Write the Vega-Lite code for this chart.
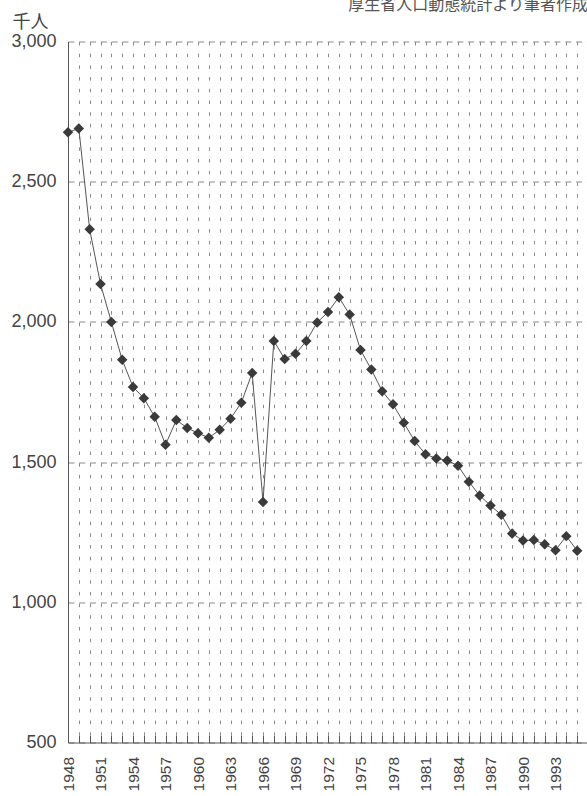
{
  "$schema": "https://vega.github.io/schema/vega-lite/v6.json",
  "autosize": "none",
  "width": 520,
  "height": 701,
  "padding": {"left": 68, "top": 41.5, "right": 0, "bottom": 54},
  "background": "white",
  "title": {
    "text": "厚生省人口動態統計より筆者作成",
    "anchor": "end",
    "orient": "top",
    "frame": "group",
    "font": "Noto Sans CJK JP",
    "fontSize": 16,
    "fontWeight": "normal",
    "color": "#555555",
    "baseline": "alphabetic",
    "offset": -12
  },
  "config": {
    "view": {"stroke": null},
    "axis": {"domainColor": "#555555", "domainWidth": 1, "gridColor": "#8a8a8a", "gridWidth": 1}
  },
  "data": {
    "values": [
      {"year": 1948, "births": 2676}, {"year": 1949, "births": 2690}, {"year": 1950, "births": 2330},
      {"year": 1951, "births": 2135}, {"year": 1952, "births": 2000}, {"year": 1953, "births": 1865},
      {"year": 1954, "births": 1768}, {"year": 1955, "births": 1728}, {"year": 1956, "births": 1662},
      {"year": 1957, "births": 1562}, {"year": 1958, "births": 1650}, {"year": 1959, "births": 1622},
      {"year": 1960, "births": 1603}, {"year": 1961, "births": 1587}, {"year": 1962, "births": 1615},
      {"year": 1963, "births": 1655}, {"year": 1964, "births": 1712}, {"year": 1965, "births": 1818},
      {"year": 1966, "births": 1358}, {"year": 1967, "births": 1932}, {"year": 1968, "births": 1868},
      {"year": 1969, "births": 1886}, {"year": 1970, "births": 1932}, {"year": 1971, "births": 1998},
      {"year": 1972, "births": 2035}, {"year": 1973, "births": 2088}, {"year": 1974, "births": 2026},
      {"year": 1975, "births": 1900}, {"year": 1976, "births": 1830}, {"year": 1977, "births": 1753},
      {"year": 1978, "births": 1706}, {"year": 1979, "births": 1640}, {"year": 1980, "births": 1575},
      {"year": 1981, "births": 1528}, {"year": 1982, "births": 1513}, {"year": 1983, "births": 1506},
      {"year": 1984, "births": 1487}, {"year": 1985, "births": 1430}, {"year": 1986, "births": 1381},
      {"year": 1987, "births": 1345}, {"year": 1988, "births": 1312}, {"year": 1989, "births": 1245},
      {"year": 1990, "births": 1220}, {"year": 1991, "births": 1222}, {"year": 1992, "births": 1207},
      {"year": 1993, "births": 1186}, {"year": 1994, "births": 1236}, {"year": 1995, "births": 1184}
    ]
  },
  "encoding": {
    "x": {
      "field": "year",
      "type": "quantitative",
      "scale": {"domain": [1948, 1996], "nice": false, "zero": false},
      "axis": {
        "title": null,
        "values": [1948,1949,1950,1951,1952,1953,1954,1955,1956,1957,1958,1959,1960,1961,1962,1963,1964,1965,1966,1967,1968,1969,1970,1971,1972,1973,1974,1975,1976,1977,1978,1979,1980,1981,1982,1983,1984,1985,1986,1987,1988,1989,1990,1991,1992,1993,1994,1995,1996],
        "format": "d",
        "labelExpr": "(datum.value - 1948) % 3 == 0 && datum.value < 1996 ? datum.label : ''",
        "labelAngle": 270,
        "labelAlign": "right",
        "labelBaseline": "middle",
        "labelFont": "Liberation Sans",
        "labelFontSize": 15.5,
        "labelColor": "#444444",
        "labelOverlap": false,
        "labelFlush": false,
        "labelPadding": 21,
        "tickSize": -7,
        "tickColor": "#555555",
        "grid": true,
        "gridDash": [3.5, 8.2]
      }
    },
    "y": {
      "field": "births",
      "type": "quantitative",
      "scale": {"domain": [500, 3000], "nice": false, "zero": false},
      "axis": {
        "title": "千人",
        "titleAngle": 0,
        "titleX": -38,
        "titleY": -14,
        "titleAlign": "center",
        "titleBaseline": "alphabetic",
        "titleFont": "Noto Sans CJK JP",
        "titleFontSize": 18,
        "titleFontWeight": "normal",
        "titleColor": "#444444",
        "values": [500, 1000, 1500, 2000, 2500, 3000],
        "format": ",.0f",
        "labelFont": "Liberation Sans",
        "labelFontSize": 18,
        "labelColor": "#444444",
        "labelPadding": 12,
        "labelFlush": false,
        "ticks": false,
        "grid": true,
        "gridDash": [6, 4.8]
      }
    }
  },
  "layer": [
    {"mark": {"type": "line", "color": "#555555", "strokeWidth": 1}},
    {"mark": {"type": "point", "shape": "diamond", "filled": true, "color": "#3a3a3a", "size": 110, "opacity": 1}}
  ]
}
